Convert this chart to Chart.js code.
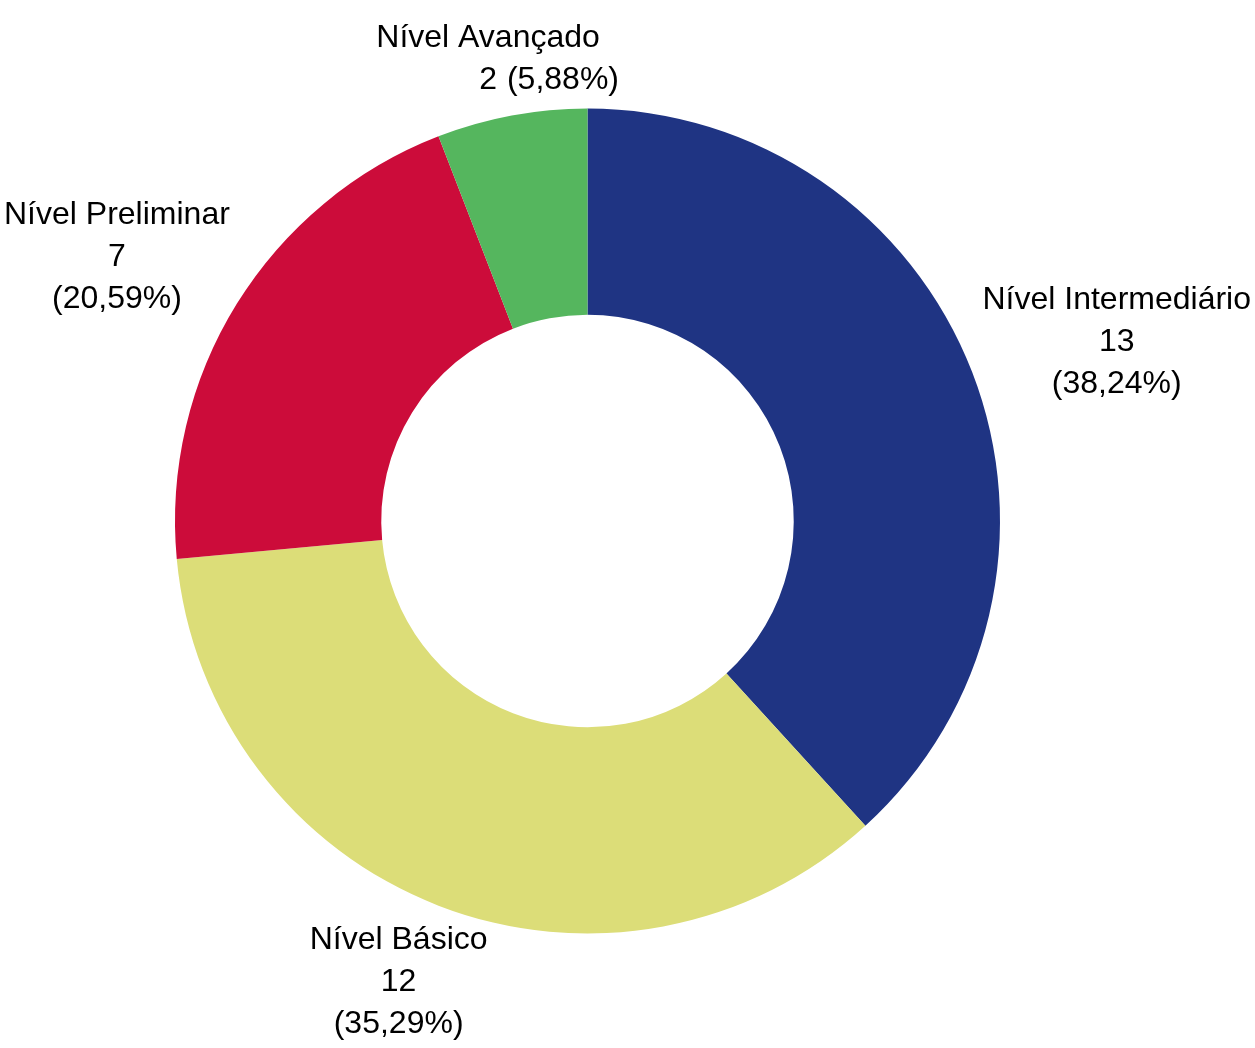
<!DOCTYPE html>
<html>
<head>
<meta charset="utf-8">
<script src="https://cdn.jsdelivr.net/npm/chart.js@4/dist/chart.umd.min.js"></script>
<style>
    html, body { margin: 0; padding: 0; background: #fff; }
    #wrap { width: 1255px; height: 1048px; }
</style>
</head>
<body>
<div id="wrap"><canvas id="levelChart" width="1255" height="1048"></canvas></div>
<script>
const levels = ['Nível Intermediário', 'Nível Básico', 'Nível Preliminar', 'Nível Avançado'];
const counts = [13, 12, 7, 2];
const levelColors = ['#1f3483', '#dcdd78', '#cc0c3a', '#55b65e'];

const LABEL_FONT = '32px "Liberation Sans", Arial, Helvetica, sans-serif';
const LINE_HEIGHT = 42;
const LABEL_GAP = 15;

function formatPct(value, total) {
    return '(' + (value / total * 100).toFixed(2).replace('.', ',') + '%)';
}

const outsideLabels = {
    id: 'outsideLabels',
    afterDatasetsDraw(chart) {
        const ctx = chart.ctx;
        const meta = chart.getDatasetMeta(0);
        const data = chart.data.datasets[0].data;
        const total = data.reduce((a, b) => a + b, 0);

        ctx.save();
        ctx.font = LABEL_FONT;
        ctx.fillStyle = '#000';
        ctx.textBaseline = 'middle';

        meta.data.forEach((arc, i) => {
            const p = arc.getProps(['x', 'y', 'startAngle', 'endAngle', 'outerRadius'], true);
            const mid = (p.startAngle + p.endAngle) / 2;
            const dx = Math.cos(mid);
            const dy = Math.sin(mid);

            const name = chart.data.labels[i];
            const count = String(data[i]);
            const pct = formatPct(data[i], total);
            // tiny slices keep count and percentage on one line
            const compact = data[i] / total < 0.1;
            const lines = compact ? [name, count] : [name, count, pct];

            const w = Math.max(...lines.map(l => ctx.measureText(l).width)) / 2;
            const h = lines.length * LINE_HEIGHT / 2;

            // anchor just outside the ring, box hangs off it away from the centre
            const r = p.outerRadius + LABEL_GAP;
            const m = Math.max(Math.abs(dx), Math.abs(dy));
            let cx = p.x + dx * r + w * dx / m;
            let cy = p.y + dy * r + h * dy / m;
            cx = Math.min(Math.max(cx, w + 4), chart.width - w - 4);

            ctx.textAlign = 'center';
            lines.forEach((l, k) => {
                ctx.fillText(l, cx, cy + (k - (lines.length - 1) / 2) * LINE_HEIGHT);
            });
            if (compact) {
                const ly = cy + (lines.length - 1) / 2 * LINE_HEIGHT;
                ctx.textAlign = 'left';
                ctx.fillText(pct, cx + ctx.measureText(count).width / 2 + 10, ly);
            }
        });
        ctx.restore();
    }
};

new Chart(document.getElementById('levelChart'), {
    type: 'doughnut',
    data: {
        labels: levels,
        datasets: [{
            data: counts,
            backgroundColor: levelColors,
            borderWidth: 0,
            hoverOffset: 0
        }]
    },
    options: {
        responsive: false,
        animation: false,
        cutout: '50%',
        layout: {
            padding: { left: 175, top: 108, right: 255, bottom: 114 }
        },
        plugins: {
            legend: { display: false },
            tooltip: { enabled: false }
        }
    },
    plugins: [outsideLabels]
});
</script>
</body>
</html>
